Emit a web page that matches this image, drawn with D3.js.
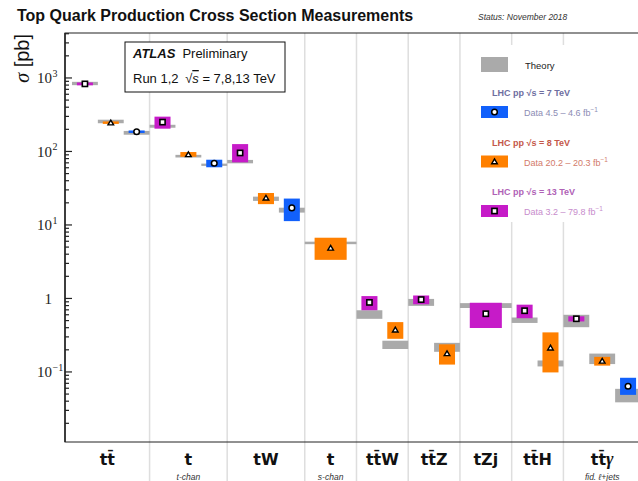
<!DOCTYPE html>
<html>
<head>
<meta charset="utf-8">
<script src="https://cdn.jsdelivr.net/npm/d3@7"></script>
<style>
  body { margin: 0; background: #fff; }
  svg { display: block; font-family: "Liberation Sans", Arial, sans-serif; }
</style>
</head>
<body>
<div id="chart"></div>
<script>
// Processes along the x axis
const processes = ["tt̄", "t", "tW", "t", "tt̄W", "tt̄Z", "tZj", "tt̄H", "tt̄γ"];
const subLabels = ["", "t-chan", "", "s-chan", "", "", "", "", "fid. ℓ+jets"];

// One entry per measurement (process index, sqrt(s) in TeV, values in pb)
const measProcess = [0, 0, 0, 1, 1, 1, 2, 2, 2, 3, 4, 4, 5, 5, 6, 7, 7, 8, 8, 8];
const measEnergy  = [13, 8, 7, 13, 8, 7, 13, 8, 7, 8, 13, 8, 13, 8, 13, 13, 8, 13, 8, 7];
const measValue   = [818, 242.9, 182.9, 247, 89.6, 68, 94, 23.0, 16.8, 4.8, 0.87, 0.369, 0.95, 0.176, 0.61, 0.67, 0.21, 0.521, 0.139, 0.063];
const measLow     = [782, 233.4, 175.8, 201, 83.3, 60, 70, 18.9, 11.1, 3.3, 0.68, 0.278, 0.82, 0.124, 0.39, 0.53, 0.097, 0.479, 0.120, 0.048];
const measHigh    = [854, 252.4, 190, 293, 96.7, 76, 124, 26.8, 22.5, 6.6, 1.06, 0.469, 1.08, 0.234, 0.86, 0.81, 0.34, 0.563, 0.158, 0.082];
const theoryLow   = [786, 238.4, 166.3, 207, 81.5, 62.6, 67.9, 20.9, 14.5, 5.39, 0.52, 0.202, 0.78, 0.185, 0.73, 0.457, 0.117, 0.40, 0.126, 0.038];
const theoryHigh  = [872, 266.2, 187.3, 227, 88.5, 67.3, 75.5, 23.9, 16.9, 5.83, 0.68, 0.262, 0.97, 0.245, 0.85, 0.542, 0.141, 0.59, 0.175, 0.058];

// y axis ticks
const yTicks = [1000, 100, 10, 1, 0.1];
const yTickExp = ["3", "2", "1", "", "−1"];

// legend
const legendEnergies = [7, 8, 13];
const legendLumi = ["4.5 – 4.6", "20.2 – 20.3", "3.2 – 79.8"];

const width = 638, height = 481;
const margin = { top: 33, left: 65, bottom: 442, right: 641 };

const fillColor = { 7: "#1160fb", 8: "#ff8000", 13: "#c61bc8" };
const headColor = { 7: "#6e6ea0", 8: "#c4584a", 13: "#b062b6" };
const dataColor = { 7: "#8c8cb4", 8: "#d27a6a", 13: "#c78ccc" };
const theoryColor = "#aaaaaa";

const svg = d3.select("#chart").append("svg")
    .attr("width", width)
    .attr("height", height);

svg.append("rect").attr("width", width).attr("height", height).attr("fill", "#fff");

// Layout of the categories in "slot" units
const counts = processes.map((p, i) => measProcess.filter(k => k === i).length);
const firstPad = 0.27;
const catWidth = counts.map((n, i) => Math.max(2, n) + (i === 0 ? firstPad : 0));
const catStart = [];
catWidth.reduce((acc, w, i) => { catStart[i] = acc; return acc + w; }, 0);
const totalUnits = d3.sum(catWidth);

const x = d3.scaleLinear().domain([0, totalUnits]).range([margin.left, margin.right]);
const y = d3.scaleLog().domain([Math.pow(10, -1.96), Math.pow(10, 3.605)]).range([margin.bottom, margin.top]);

// slot of every measurement
const order = [];
measProcess.forEach((p, i) => {
    const j = measProcess.slice(0, i).filter(k => k === p).length;
    const n = counts[p];
    const slot = Math.max(2, n) / n;
    const s0 = catStart[p] + (p === 0 ? firstPad : 0) + j * slot;
    order.push({ i, x0: x(s0), x1: x(s0 + slot) });
});

// category separators
svg.append("g").selectAll("line")
    .data(catStart.slice(1))
    .join("line")
    .attr("x1", d => x(d)).attr("x2", d => x(d))
    .attr("y1", margin.top).attr("y2", height)
    .attr("stroke", "#dedede")
    .attr("stroke-width", 1.5);

// legend background hides the separators
svg.append("rect")
    .attr("x", 470).attr("y", 45).attr("width", 175).attr("height", 177)
    .attr("fill", "#fff");

// theory bands
svg.append("g").selectAll("rect")
    .data(order)
    .join("rect")
    .attr("x", d => d.x0)
    .attr("width", d => d.x1 - d.x0)
    .attr("y", d => y(theoryHigh[d.i]))
    .attr("height", d => Math.max(2, y(theoryLow[d.i]) - y(theoryHigh[d.i])))
    .attr("fill", theoryColor);

// measurement boxes
svg.append("g").selectAll("rect")
    .data(order)
    .join("rect")
    .attr("x", d => (d.x0 + d.x1) / 2 - (d.x1 - d.x0) * 0.31)
    .attr("width", d => (d.x1 - d.x0) * 0.62)
    .attr("y", d => y(measHigh[d.i]))
    .attr("height", d => y(measLow[d.i]) - y(measHigh[d.i]))
    .attr("fill", d => fillColor[measEnergy[d.i]]);

// markers
function drawMarker(g, energy) {
    if (energy === 13) {
        g.append("rect").attr("x", -2.6).attr("y", -2.6).attr("width", 5.2).attr("height", 5.2)
            .attr("fill", "#fff").attr("stroke", "#000").attr("stroke-width", 1.6);
    } else if (energy === 8) {
        g.append("path").attr("d", "M0,-2.6L2.8,2.2L-2.8,2.2Z")
            .attr("fill", "#fff").attr("stroke", "#000").attr("stroke-width", 1.4);
    } else {
        g.append("circle").attr("r", 2.8)
            .attr("fill", "#fff").attr("stroke", "#000").attr("stroke-width", 1.5);
    }
}
order.forEach(d => {
    const g = svg.append("g")
        .attr("transform", `translate(${(d.x0 + d.x1) / 2},${y(measValue[d.i])})`);
    drawMarker(g, measEnergy[d.i]);
});

// frame
svg.append("rect")
    .attr("x", margin.left).attr("y", margin.top)
    .attr("width", margin.right - margin.left).attr("height", margin.bottom - margin.top)
    .attr("fill", "none").attr("stroke", "#222").attr("stroke-width", 1);
svg.append("line")
    .attr("x1", margin.left).attr("x2", margin.left)
    .attr("y1", margin.top).attr("y2", margin.bottom)
    .attr("stroke", "#222").attr("stroke-width", 1.5);

// y axis ticks (pointing inward)
const minorTicks = [];
for (let e = -2; e <= 3; e++) {
    for (let m = 2; m <= 9; m++) {
        const v = m * Math.pow(10, e);
        if (v >= y.domain()[0] && v <= y.domain()[1]) minorTicks.push(v);
    }
}
const majorAxis = svg.append("g")
    .attr("transform", `translate(${margin.left},0)`)
    .call(d3.axisLeft(y).tickValues(yTicks).tickSize(-7).tickFormat(""));
const minorAxis = svg.append("g")
    .attr("transform", `translate(${margin.left},0)`)
    .call(d3.axisLeft(y).tickValues(minorTicks).tickSize(-4).tickFormat(""));
[majorAxis, minorAxis].forEach(a => {
    a.select(".domain").remove();
    a.selectAll("line").attr("stroke", "#222").attr("stroke-width", 1.2);
});

// y tick labels
const tl = svg.append("g").style("font-family", "'Liberation Serif', serif").attr("fill", "#222");
yTicks.forEach((v, i) => {
    tl.append("text")
        .attr("x", 52).attr("y", y(v) + 6)
        .attr("text-anchor", "end")
        .style("font-size", "15px")
        .text(yTickExp[i] === "" ? "1" : "10");
    if (yTickExp[i] !== "") {
        tl.append("text")
            .attr("x", 52.5).attr("y", y(v) - 0.5)
            .style("font-size", "10px")
            .text(yTickExp[i]);
    }
});

// y axis title
svg.append("text")
    .attr("transform", `translate(29,${margin.top + 1}) rotate(-90)`)
    .attr("text-anchor", "end")
    .style("font-size", "20px")
    .attr("fill", "#111")
    .html("<tspan font-style='italic' font-family='Liberation Serif, serif'>σ</tspan> [pb]");

// category labels
const catCenter = catStart.map((s, i) => x(s + catWidth[i] / 2));
svg.append("g").selectAll("text")
    .data(processes)
    .join("text")
    .attr("x", (d, i) => catCenter[i])
    .attr("y", 465)
    .attr("text-anchor", "middle")
    .style("font-family", "'DejaVu Sans', sans-serif")
    .style("font-weight", "bold")
    .style("font-size", "16px")
    .attr("fill", "#111")
    .each(function (d) {
        const t = d3.select(this);
        if (d.endsWith("γ")) {
            t.append("tspan").text(d.slice(0, -1));
            t.append("tspan").attr("font-family", "Liberation Serif, serif").attr("font-style", "italic").attr("font-size", "18px").text("γ");
        } else {
            t.text(d);
        }
    });
svg.append("g").selectAll("text")
    .data(subLabels)
    .join("text")
    .attr("x", (d, i) => catCenter[i])
    .attr("y", 480)
    .attr("text-anchor", "middle")
    .style("font-size", "8.5px")
    .style("font-style", "italic")
    .attr("fill", "#333")
    .text(d => d);

// title
svg.append("text")
    .attr("x", 17).attr("y", 21)
    .style("font-size", "16px").style("font-weight", "bold")
    .attr("fill", "#111")
    .text("Top Quark Production Cross Section Measurements");
svg.append("text")
    .attr("x", 478).attr("y", 20)
    .style("font-size", "8.5px").style("font-style", "italic")
    .attr("fill", "#333")
    .text("Status: November 2018");

// ATLAS box
svg.append("rect")
    .attr("x", 125).attr("y", 42).attr("width", 160).attr("height", 50)
    .attr("fill", "#fff").attr("stroke", "#111").attr("stroke-width", 1);
svg.append("text")
    .attr("x", 133).attr("y", 58)
    .style("font-size", "13px")
    .attr("fill", "#111")
    .html("<tspan font-weight='bold' font-style='italic'>ATLAS</tspan><tspan dx='7'>Preliminary</tspan>");
svg.append("text")
    .attr("x", 133).attr("y", 83)
    .style("font-size", "13px")
    .attr("fill", "#111")
    .html("Run 1,2 <tspan dx='3'>√</tspan><tspan font-style='italic' text-decoration='overline'>s</tspan> = 7,8,13 TeV");

// legend
const lg = svg.append("g");
lg.append("rect").attr("x", 481).attr("y", 57).attr("width", 27).attr("height", 15).attr("fill", theoryColor);
lg.append("text").attr("x", 525).attr("y", 69).style("font-size", "9.5px").attr("fill", "#222").text("Theory");
legendEnergies.forEach((e, i) => {
    const y0 = 96 + i * 49.5;
    lg.append("text")
        .attr("x", 492).attr("y", y0)
        .style("font-size", "9px").style("font-weight", "bold")
        .attr("fill", headColor[e])
        .text(`LHC pp  √s = ${e} TeV`);
    lg.append("rect")
        .attr("x", 481).attr("y", y0 + 10).attr("width", 27).attr("height", 12)
        .attr("fill", fillColor[e]);
    const g = lg.append("g").attr("transform", `translate(494.5,${y0 + 16})`);
    drawMarker(g, e);
    lg.append("text")
        .attr("x", 524).attr("y", y0 + 20)
        .style("font-size", "9px")
        .attr("fill", dataColor[e])
        .html(`Data  ${legendLumi[i]} fb<tspan dy="-4" font-size="6.5px">−1</tspan>`);
});
</script>
</body>
</html>
